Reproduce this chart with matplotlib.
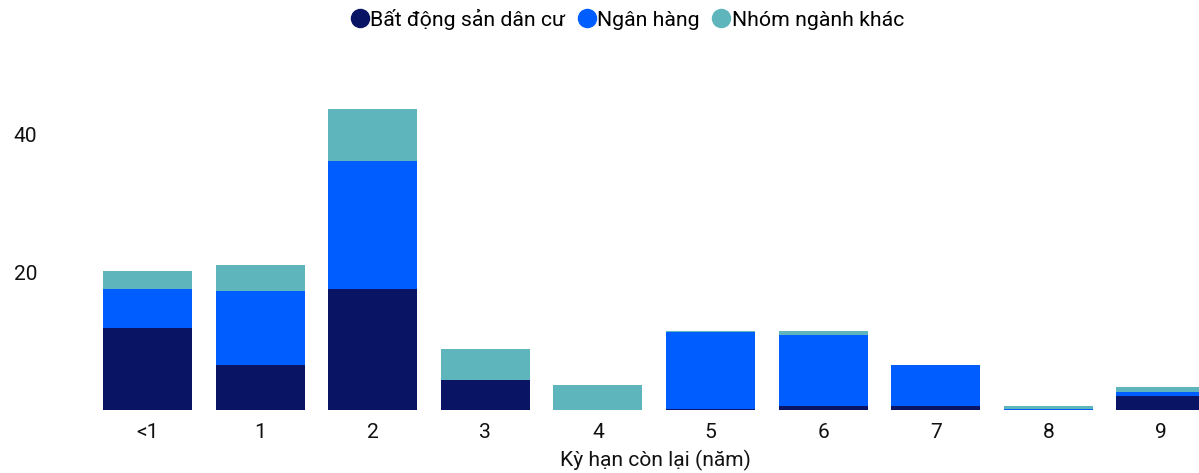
import numpy as np
import matplotlib.pyplot as plt
from matplotlib.lines import Line2D

plt.rcParams['font.family'] = ['Roboto', 'DejaVu Sans']

# số liệu
categories = ['<1', '1', '2', '3', '4', '5', '6', '7', '8', '9']
bds = [11.9, 6.5, 17.6, 4.4, 0.0, 0.15, 0.55, 0.55, 0.0, 2.0]
ngan_hang = [5.7, 10.8, 18.6, 0.0, 0.0, 11.15, 10.35, 5.95, 0.15, 0.6]
khac = [2.6, 3.8, 7.6, 4.5, 3.6, 0.15, 0.6, 0.0, 0.4, 0.7]
series_names = ['Bất động sản dân cư', 'Ngân hàng', 'Nhóm ngành khác']
colors = ['#0A1464', '#005DFF', '#5EB5BC']

fig = plt.figure(figsize=(11.99, 4.73), dpi=100)
# trục rộng hơn khung hình một chút: cột cuối bị cắt như bản gốc
ax = fig.add_axes([91.2 / 1199, 1 - 410 / 473, 1126 / 1199, 350 / 473])

x = np.arange(len(categories))
bottom = np.zeros(len(categories))
for vals, c in zip([bds, ngan_hang, khac], colors):
    ax.bar(x, vals, bottom=bottom, width=0.79, color=c)
    bottom += np.array(vals)

ax.set_xlim(-0.5, len(categories) - 0.5)
ax.set_ylim(0, 350 / 6.88)
ax.set_yticks([20, 40])
ax.set_xticks(x)
ax.set_xticklabels(categories)
for s in ax.spines.values():
    s.set_visible(False)
ax.tick_params(axis='both', length=0, labelsize=15.1, colors='#111111')
ax.tick_params(axis='y', pad=39)
ax.tick_params(axis='x', pad=9)
ax.set_xlabel('Kỳ hạn còn lại (năm)', fontsize=15.1, color='#111111')
ax.xaxis.set_label_coords((655.5 - 91.2) / 1126, -40 / 350)

handles = [Line2D([], [], marker='o', linestyle='', markersize=13, color=c) for c in colors]
fig.legend(handles, series_names, loc='center', bbox_to_anchor=(627 / 1199, 1 - 19 / 473),
           ncol=3, frameon=False, fontsize=15.3, handletextpad=0.05, columnspacing=0.55,
           handlelength=0.9)

fig.savefig('out.png', dpi=100)
